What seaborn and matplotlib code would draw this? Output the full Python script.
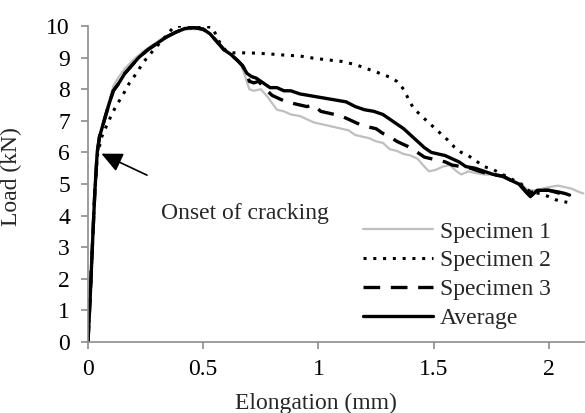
import numpy as np
import pandas as pd
import matplotlib
matplotlib.use("Agg")
import matplotlib.pyplot as plt
import seaborn as sns

# ---------------- data ----------------
avg_x = [0, 0.01, 0.02, 0.03, 0.04, 0.05, 0.07, 0.09, 0.11, 0.13, 0.16, 0.19, 0.22, 0.26,
         0.30, 0.34, 0.38, 0.42, 0.46, 0.50, 0.53, 0.56, 0.59, 0.62, 0.65, 0.67, 0.69, 0.71,
         0.73, 0.76, 0.79, 0.82, 0.85, 0.88, 0.92, 0.96, 1.00, 1.04, 1.08, 1.12, 1.16, 1.20,
         1.24, 1.28, 1.31, 1.34, 1.37, 1.40, 1.43, 1.46, 1.49, 1.52, 1.55, 1.58, 1.61, 1.64,
         1.68, 1.72, 1.76, 1.80, 1.84, 1.87, 1.90, 1.92, 1.95, 2.00, 2.04, 2.07, 2.09]
avg_y = [0, 1.5, 3.2, 4.8, 6.0, 6.5, 7.0, 7.5, 7.95, 8.15, 8.5, 8.75, 9.0, 9.25,
         9.45, 9.65, 9.8, 9.92, 9.95, 9.9, 9.75, 9.5, 9.25, 9.1, 8.9, 8.75, 8.5, 8.4,
         8.35, 8.2, 8.05, 8.05, 7.95, 7.95, 7.85, 7.8, 7.75, 7.7, 7.65, 7.6, 7.45, 7.35,
         7.3, 7.2, 7.05, 6.9, 6.75, 6.55, 6.35, 6.15, 6.0, 5.95, 5.9, 5.8, 5.7, 5.55,
         5.5, 5.4, 5.3, 5.25, 5.1, 5.0, 4.75, 4.6, 4.8, 4.8, 4.75, 4.7, 4.65]

s1_x = [0, 0.01, 0.02, 0.03, 0.04, 0.05, 0.07, 0.09, 0.11, 0.13, 0.16, 0.20, 0.24, 0.28,
        0.32, 0.36, 0.40, 0.44, 0.48, 0.52, 0.56, 0.60, 0.63, 0.66, 0.68, 0.70, 0.72, 0.75,
        0.78, 0.80, 0.82, 0.85, 0.88, 0.92, 0.95, 0.98, 1.01, 1.04, 1.07, 1.10, 1.13, 1.16,
        1.19, 1.22, 1.25, 1.28, 1.31, 1.34, 1.37, 1.40, 1.43, 1.46, 1.48, 1.51, 1.54, 1.57,
        1.60, 1.62, 1.65, 1.68, 1.72, 1.76, 1.80, 1.84, 1.88, 1.91, 1.94, 1.97, 2.00, 2.04,
        2.07, 2.10, 2.13, 2.15]
s1_y = [0, 1.5, 3.2, 4.8, 6.0, 6.5, 7.1, 7.6, 8.1, 8.35, 8.65, 8.95, 9.2, 9.4,
        9.6, 9.75, 9.85, 9.9, 9.9, 9.8, 9.5, 9.2, 9.05, 8.85, 8.45, 8.0, 7.95, 8.0,
        7.75, 7.55, 7.35, 7.3, 7.2, 7.15, 7.05, 6.95, 6.9, 6.85, 6.8, 6.75, 6.7, 6.55,
        6.5, 6.45, 6.35, 6.3, 6.1, 6.05, 5.95, 5.9, 5.8, 5.55, 5.4, 5.45, 5.55, 5.6,
        5.4, 5.3, 5.4, 5.35, 5.3, 5.3, 5.2, 5.1, 5.0, 4.8, 4.8, 4.85, 4.9, 4.95,
        4.9, 4.85, 4.75, 4.7]

s2_x = [0, 0.01, 0.02, 0.03, 0.04, 0.06, 0.09, 0.12, 0.15, 0.18, 0.21, 0.24, 0.28, 0.31,
        0.34, 0.37, 0.40, 0.45, 0.50, 0.54, 0.57, 0.60, 0.63, 0.70, 0.78, 0.85, 0.92, 0.98,
        1.05, 1.10, 1.16, 1.21, 1.26, 1.31, 1.34, 1.37, 1.39, 1.41, 1.44, 1.47, 1.50, 1.53,
        1.56, 1.59, 1.62, 1.65, 1.68, 1.72, 1.76, 1.80, 1.84, 1.88, 1.92, 1.96, 2.00, 2.03,
        2.06, 2.08]
s2_y = [0, 1.5, 3.2, 4.8, 5.9, 6.5, 7.0, 7.45, 7.8, 8.2, 8.5, 8.85, 9.2, 9.45,
        9.7, 9.95, 10.0, 10.0, 10.0, 9.95, 9.5, 9.2, 9.15, 9.15, 9.12, 9.08, 9.05, 8.98,
        8.92, 8.88, 8.78, 8.65, 8.52, 8.38, 8.25, 8.0, 7.7, 7.43, 7.2, 7.0, 6.8, 6.6,
        6.4, 6.17, 6.0, 5.9, 5.75, 5.55, 5.45, 5.3, 5.15, 5.0, 4.75, 4.7, 4.6, 4.5,
        4.45, 4.42]

s3_x = [0, 0.01, 0.02, 0.03, 0.04, 0.05, 0.07, 0.09, 0.11, 0.13, 0.16, 0.19, 0.22, 0.26,
        0.30, 0.34, 0.38, 0.42, 0.46, 0.50, 0.53, 0.56, 0.59, 0.62, 0.65, 0.67, 0.69, 0.70,
        0.72, 0.74, 0.77, 0.80, 0.83, 0.86, 0.89, 0.92, 0.95, 0.98, 1.01, 1.04, 1.07, 1.10,
        1.13, 1.16, 1.19, 1.22, 1.25, 1.28, 1.31, 1.34, 1.37, 1.40, 1.43, 1.46, 1.49, 1.52,
        1.55, 1.58, 1.62, 1.66, 1.70, 1.75, 1.80, 1.84, 1.88, 1.91, 1.95, 2.00, 2.05, 2.09]
s3_y = [0, 1.5, 3.2, 4.8, 6.0, 6.5, 7.0, 7.5, 7.95, 8.15, 8.5, 8.75, 9.0, 9.25,
        9.45, 9.65, 9.8, 9.92, 9.95, 9.9, 9.75, 9.5, 9.25, 9.1, 8.9, 8.75, 8.5, 8.25,
        8.2, 8.25, 8.0, 7.8, 7.7, 7.6, 7.55, 7.5, 7.45, 7.5, 7.3, 7.25, 7.2, 7.15,
        7.05, 6.95, 6.85, 6.8, 6.75, 6.6, 6.5, 6.35, 6.25, 6.15, 6.0, 5.85, 5.8, 5.75,
        5.7, 5.6, 5.55, 5.5, 5.4, 5.3, 5.25, 5.1, 4.95, 4.7, 4.8, 4.8, 4.7, 4.65]

series_names = ["Specimen 1", "Specimen 2", "Specimen 3", "Average"]
x_ticks = [0, 0.5, 1, 1.5, 2]
x_tick_labels = ["0", "0.5", "1", "1.5", "2"]
y_ticks = list(range(0, 11))

# ---------------- build table ----------------
frames = []
for name, xs, ys in zip(series_names, [s1_x, s2_x, s3_x, avg_x], [s1_y, s2_y, s3_y, avg_y]):
    frames.append(pd.DataFrame({"Elongation": xs, "Load": ys, "Series": name}))
df = pd.concat(frames, ignore_index=True)

sns.set_theme(style="white")
plt.rcParams["font.family"] = ["Liberation Serif", "DejaVu Serif"]
plt.rcParams["font.size"] = 17

fig = plt.figure(figsize=(5.85, 4.13), dpi=100)
ax = fig.add_axes([88 / 585, (413 - 342) / 413, 1 - 88 / 585, (342 - 26) / 413])

styles = {
    "Specimen 1": dict(color="#bfbfbf", lw=1.6, ls="-"),
    "Specimen 2": dict(color="black", lw=2.2, ls=(0, (1, 2.2))),
    "Specimen 3": dict(color="black", lw=2.4, ls=(0, (5, 3.2))),
    "Average": dict(color="black", lw=2.4, ls="-"),
}
for name in series_names:
    sub = df[df["Series"] == name]
    st = styles[name]
    sns.lineplot(data=sub, x="Elongation", y="Load", ax=ax, estimator=None, sort=False,
                 color=st["color"], linewidth=st["lw"], linestyle=st["ls"], label=name)

ax.set_xlim(0, 2.157)
ax.set_ylim(0, 10)
ax.set_xticks(x_ticks)
ax.set_xticklabels(x_tick_labels)
ax.set_yticks(y_ticks)
for s in ["top", "right"]:
    ax.spines[s].set_visible(False)
for s in ["left", "bottom"]:
    ax.spines[s].set_color("#8c8c8c")
    ax.spines[s].set_linewidth(1.2)
ax.tick_params(axis="both", which="major", direction="out", length=5, width=1.2,
               color="#8c8c8c", labelsize=17, labelcolor="black", left=True, bottom=True)
ax.tick_params(axis="y", pad=8)
ax.tick_params(axis="x", pad=7)

ax.set_xlabel("Elongation (mm)", fontsize=17)
ax.set_ylabel("Load (kN)", fontsize=17)
ax.xaxis.set_label_coords((316 - 88) / 497, -0.16)
ax.yaxis.set_label_coords(-0.133, 0.524)

ax.annotate("", xy=(0.058, 5.96), xytext=(0.256, 5.28),
            arrowprops=dict(arrowstyle="-|>,head_length=0.75,head_width=0.35", color="black",
                            lw=1.2, shrinkA=0, shrinkB=0))
ax.text(0.317, 4.07, "Onset of cracking", fontsize=17, va="center", ha="left")

leg = ax.legend(loc="upper left", bbox_to_anchor=((363 - 88) / 497, (342 - 221) / 316),
                frameon=False, fontsize=17, handlelength=2.95, handletextpad=0.3,
                labelspacing=0.31, borderpad=0, borderaxespad=0)

fig.savefig("out.png", dpi=100)
